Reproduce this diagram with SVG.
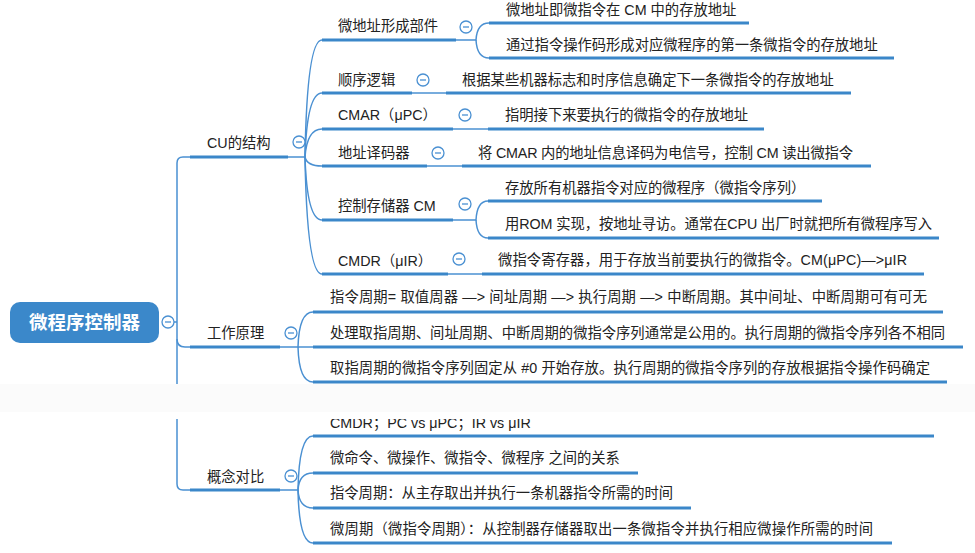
<svg xmlns="http://www.w3.org/2000/svg" width="975" height="553" viewBox="0 0 975 553">
<style>
text{font-family:"Liberation Sans","Noto Sans CJK SC",sans-serif;font-size:14.3px;fill:#222;dominant-baseline:central}
.root{font-size:18.5px;font-weight:bold;fill:#fff;text-anchor:middle}
.bar{stroke:#3b87c9;stroke-width:3.2;fill:none}
.ln{stroke:#4a90d2;stroke-width:1.5;fill:none}
.tg circle{fill:#fff;stroke:#4a90d2;stroke-width:1.3}
.tg line{stroke:#4a90d2;stroke-width:1.3}
</style>
<defs>
<g id="toggle" class="tg"><circle r="6"/><line x1="-3" y1="0" x2="3" y2="0"/></g>
</defs>
<rect width="975" height="553" fill="#fff"/>
<g id="connectors">
<path class="ln" d="M174,322 H177"/>
<path class="ln" d="M190,157 H183 Q177,157 177,163 V484 Q177,490 183,490 H190"/>
<path class="ln" d="M177,339 Q177,347 185,347 H190"/>
<path class="ln" d="M288,157 H305"/>
<path class="ln" d="M305,157 Q307,40 322,40"/>
<path class="ln" d="M305,157 Q307,93 322,93"/>
<path class="ln" d="M305,157 Q307,129 322,129"/>
<path class="ln" d="M305,157 Q307,166 322,166"/>
<path class="ln" d="M305,157 Q307,220 322,220"/>
<path class="ln" d="M305,157 Q307,274 322,274"/>
<path class="ln" d="M456,40 H476 Q477,23 489,23"/>
<path class="ln" d="M476,40 Q477,58 489,58"/>
<path class="ln" d="M412,93 H446"/>
<path class="ln" d="M453,129 H488"/>
<path class="ln" d="M427,166 H462"/>
<path class="ln" d="M453,220 H476 Q477,201 488,201"/>
<path class="ln" d="M476,220 Q477,238 488,238"/>
<path class="ln" d="M448,274 H482"/>
<path class="ln" d="M280,347 H298 Q299,312 313,312"/>
<path class="ln" d="M298,347 H313"/>
<path class="ln" d="M298,347 Q299,382 313,382"/>
<path class="ln" d="M280,490 H298 Q299,436 313,436"/>
<path class="ln" d="M298,490 Q299,473 313,473"/>
<path class="ln" d="M298,490 Q299,508 313,508"/>
<path class="ln" d="M298,490 Q299,543 313,543"/>
</g>
<g id="root">
<rect x="10" y="302" width="149" height="41" rx="10" fill="#3b88ca"/>
<text class="root" x="84.5" y="322.5">微程序控制器</text>
<use href="#toggle" x="168" y="322"/>
</g>
<g id="cu">
<text x="207" y="143">CU的结构</text>
<path class="bar" d="M190,157 H288"/>
<use href="#toggle" x="299" y="142"/>
</g>
<g id="wdz">
<text x="338" y="26">微地址形成部件</text>
<path class="bar" d="M322,40 H456"/>
<use href="#toggle" x="466" y="27"/>
</g>
<g id="wdz1">
<text x="506" y="10">微地址即微指令在 CM 中的存放地址</text>
<path class="bar" d="M489,23 H749"/>
</g>
<g id="wdz2">
<text x="506" y="45">通过指令操作码形成对应微程序的第一条微指令的存放地址</text>
<path class="bar" d="M489,58 H894"/>
</g>
<g id="sxlj">
<text x="338" y="80">顺序逻辑</text>
<path class="bar" d="M322,93 H412"/>
<use href="#toggle" x="423" y="80"/>
</g>
<g id="sxlj1">
<text x="462" y="80">根据某些机器标志和时序信息确定下一条微指令的存放地址</text>
<path class="bar" d="M446,93 H851"/>
</g>
<g id="cmar">
<text x="338" y="115">CMAR（μPC）</text>
<path class="bar" d="M322,129 H453"/>
<use href="#toggle" x="465" y="115"/>
</g>
<g id="cmar1">
<text x="505" y="115">指明接下来要执行的微指令的存放地址</text>
<path class="bar" d="M488,129 H764"/>
</g>
<g id="dzymq">
<text x="338" y="153">地址译码器</text>
<path class="bar" d="M322,166 H427"/>
<use href="#toggle" x="438" y="153"/>
</g>
<g id="dzymq1">
<text x="478" y="153" textLength="375">将 CMAR 内的地址信息译码为电信号，控制 CM 读出微指令</text>
<path class="bar" d="M462,166 H871"/>
</g>
<g id="kzccq">
<text x="338" y="206">控制存储器 CM</text>
<path class="bar" d="M322,220 H453"/>
<use href="#toggle" x="465" y="204"/>
</g>
<g id="kzccq1">
<text x="505" y="188">存放所有机器指令对应的微程序（微指令序列）</text>
<path class="bar" d="M488,201 H822"/>
</g>
<g id="kzccq2">
<text x="505" y="224" textLength="427">用ROM 实现，按地址寻访。通常在CPU 出厂时就把所有微程序写入</text>
<path class="bar" d="M488,238 H939"/>
</g>
<g id="cmdr">
<text x="338" y="261">CMDR（μIR）</text>
<path class="bar" d="M322,274 H448"/>
<use href="#toggle" x="459" y="259"/>
</g>
<g id="cmdr1">
<text x="498" y="260" textLength="409">微指令寄存器，用于存放当前要执行的微指令。CM(μPC)—&gt;μIR</text>
<path class="bar" d="M482,274 H924"/>
</g>
<g id="gzyl">
<text x="207" y="333">工作原理</text>
<path class="bar" d="M190,347 H280"/>
<use href="#toggle" x="291" y="333"/>
</g>
<g id="gzyl1">
<text x="330" y="297" textLength="597">指令周期= 取值周器 —&gt; 间址周期 —&gt; 执行周期 —&gt; 中断周期。其中间址、中断周期可有可无</text>
<path class="bar" d="M313,312 H943"/>
</g>
<g id="gzyl2">
<text x="330" y="333" textLength="615">处理取指周期、间址周期、中断周期的微指令序列通常是公用的。执行周期的微指令序列各不相同</text>
<path class="bar" d="M313,347 H963"/>
</g>
<g id="gzyl3">
<text x="330" y="368" textLength="600">取指周期的微指令序列固定从 #0 开始存放。执行周期的微指令序列的存放根据指令操作码确定</text>
<path class="bar" d="M313,382 H947"/>
</g>
<g id="gndb">
<text x="207" y="477">概念对比</text>
<path class="bar" d="M190,490 H280"/>
<use href="#toggle" x="291" y="476"/>
</g>
<g id="gndb1">
<text x="330" y="422.5">CMDR；PC vs μPC；IR vs μIR</text>
<path class="bar" d="M313,436 H934"/>
</g>
<g id="gndb2">
<text x="330" y="458">微命令、微操作、微指令、微程序 之间的关系</text>
<path class="bar" d="M313,473 H638"/>
</g>
<g id="gndb3">
<text x="330" y="493">指令周期：从主存取出并执行一条机器指令所需的时间</text>
<path class="bar" d="M313,508 H691"/>
</g>
<g id="gndb4">
<text x="330" y="529" textLength="543">微周期（微指令周期）：从控制器存储器取出一条微指令并执行相应微操作所需的时间</text>
<path class="bar" d="M313,543 H892"/>
</g>
<rect x="0" y="384" width="975" height="35" fill="#fff"/>
<rect x="0" y="384" width="975" height="28" fill="#fbfbfb"/>
</svg>
